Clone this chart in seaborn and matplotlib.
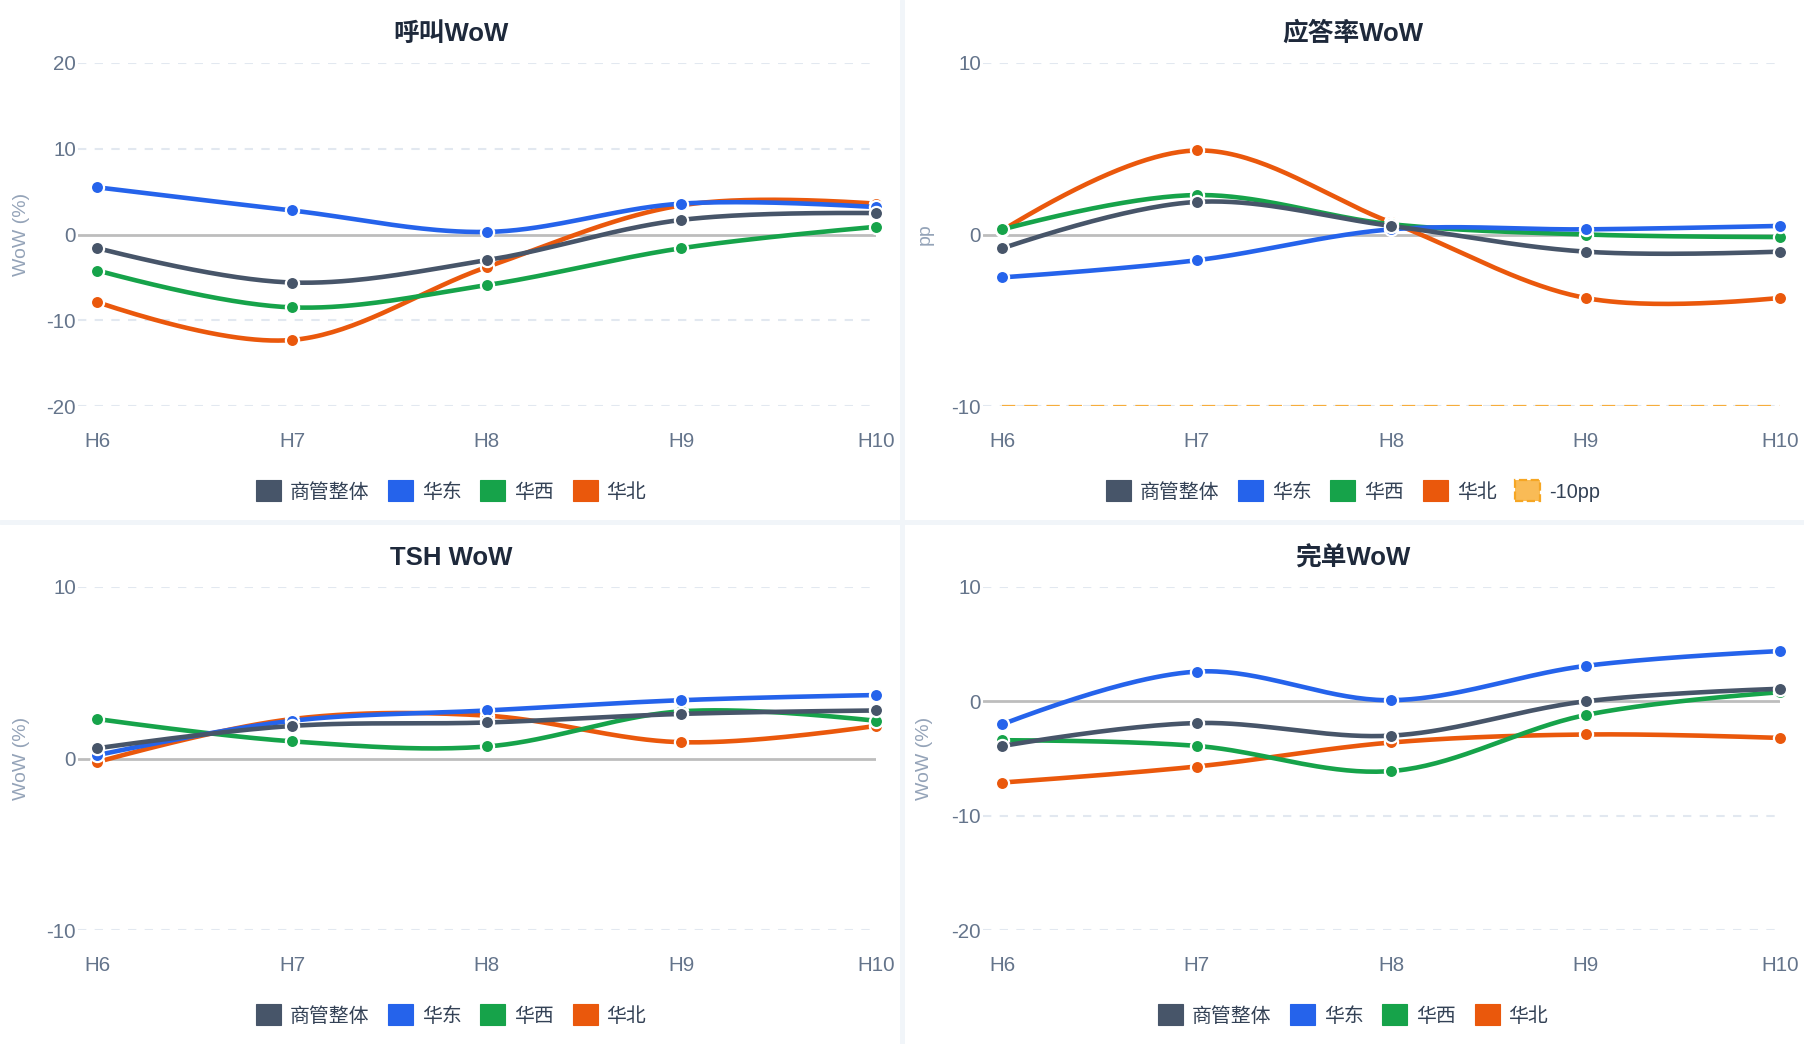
import numpy as np
import pandas as pd
import matplotlib
matplotlib.use('Agg')
import matplotlib.pyplot as plt
import seaborn as sns
from matplotlib.patches import Patch
from matplotlib.lines import Line2D

# categories / series
hours = ['H6', 'H7', 'H8', 'H9', 'H10']
names = ['商管整体', '华东', '华西', '华北']
colors = ['#475569', '#2563eb', '#16a34a', '#ea580c']

# 呼叫WoW (%)
call_all = [-1.6, -5.6, -3.0, 1.7, 2.5]
call_east = [5.5, 2.8, 0.3, 3.6, 3.2]
call_west = [-4.2, -8.5, -5.9, -1.6, 0.9]
call_north = [-7.9, -12.3, -3.8, 3.4, 3.6]

# 应答率WoW (pp)
ans_all = [-0.8, 1.9, 0.5, -1.0, -1.0]
ans_east = [-2.5, -1.5, 0.3, 0.3, 0.5]
ans_west = [0.3, 2.3, 0.6, 0.0, -0.15]
ans_north = [0.25, 4.9, 0.7, -3.7, -3.7]
ans_limit = -10

# TSH WoW (%)
tsh_all = [0.6, 1.9, 2.1, 2.6, 2.8]
tsh_east = [0.2, 2.2, 2.8, 3.4, 3.7]
tsh_west = [2.3, 1.0, 0.7, 2.75, 2.2]
tsh_north = [-0.2, 2.3, 2.5, 0.95, 1.9]

# 完单WoW (%)
fin_all = [-3.9, -1.9, -3.0, 0.0, 1.1]
fin_east = [-2.0, 2.6, 0.1, 3.1, 4.4]
fin_west = [-3.4, -3.9, -6.1, -1.2, 0.8]
fin_north = [-7.1, -5.7, -3.6, -2.9, -3.2]

sns.set_theme(style='white')
plt.rcParams['font.family'] = ['Liberation Sans', 'Noto Sans CJK SC', 'DejaVu Sans']
plt.rcParams['axes.unicode_minus'] = False


def smooth(ax, xs, ys, n=40):
    # plotly-like catmull-rom spline, done in pixel space
    pts = ax.transData.transform(np.column_stack([xs, ys]))
    tang = []
    for i in range(1, len(pts) - 1):
        d1 = pts[i - 1] - pts[i]
        d2 = pts[i + 1] - pts[i]
        d1a = np.hypot(*d1) ** 0.5
        d2a = np.hypot(*d2) ** 0.5
        num = d2a ** 2 * d1 - d1a ** 2 * d2
        tang.append((pts[i] + num / (3 * d2a * (d1a + d2a)),
                     pts[i] - num / (3 * d1a * (d1a + d2a))))
    t = np.linspace(0, 1, n)[:, None]
    segs = [(1 - t) ** 2 * pts[0] + 2 * (1 - t) * t * tang[0][0] + t ** 2 * pts[1]]
    for i in range(2, len(pts) - 1):
        segs.append((1 - t) ** 3 * pts[i - 1] + 3 * (1 - t) ** 2 * t * tang[i - 2][1]
                    + 3 * (1 - t) * t ** 2 * tang[i - 1][0] + t ** 3 * pts[i])
    segs.append((1 - t) ** 2 * pts[-2] + 2 * (1 - t) * t * tang[-1][1] + t ** 2 * pts[-1])
    return ax.transData.inverted().transform(np.vstack(segs))


W, H = 1804, 1044
fig = plt.figure(figsize=(W / 100, H / 100), dpi=100)

panels = [
    dict(rect=(78, 63, 876, 406), title='呼叫WoW', ylabel='WoW (%)', ylim=(-20, 20),
         yticks=[-20, -10, 0, 10, 20], data=[call_all, call_east, call_west, call_north],
         cx=451, lab_x=21, limit=None),
    dict(rect=(983, 63, 1780, 406), title='应答率WoW', ylabel='pp', ylim=(-10, 10),
         yticks=[-10, 0, 10], data=[ans_all, ans_east, ans_west, ans_north],
         cx=1353, lab_x=925, limit=ans_limit),
    dict(rect=(78, 587, 876, 930), title='TSH WoW', ylabel='WoW (%)', ylim=(-10, 10),
         yticks=[-10, 0, 10], data=[tsh_all, tsh_east, tsh_west, tsh_north],
         cx=451, lab_x=21, limit=None),
    dict(rect=(983, 587, 1780, 930), title='完单WoW', ylabel='WoW (%)', ylim=(-20, 10),
         yticks=[-20, -10, 0, 10], data=[fin_all, fin_east, fin_west, fin_north],
         cx=1353, lab_x=925, limit=None),
]

xs = np.arange(len(hours))
for p in panels:
    x0, y0, x1, y1 = p['rect']
    ax = fig.add_axes([x0 / W, 1 - y1 / H, (x1 - x0) / W, (y1 - y0) / H])
    ax.set_xlim(-0.1, 4.0)
    ax.set_ylim(*p['ylim'])
    ax.set_yticks(p['yticks'])
    ax.set_yticklabels([str(v) for v in p['yticks']])
    ax.set_xticks(xs)
    ax.set_xticklabels(hours)
    for s in ax.spines.values():
        s.set_visible(False)
    ax.grid(False)
    for v in p['yticks']:
        if v != 0:
            ax.axhline(v, color='#e2e8f0', lw=1.5, dashes=(4, 4), zorder=0)
    ax.axhline(0, color='#bdbdbd', lw=2, zorder=1)
    ax.tick_params(axis='y', length=0, pad=1.5, labelsize=14.8, labelcolor='#64748b')
    ax.tick_params(axis='x', length=0, pad=19, labelsize=14.8, labelcolor='#64748b')

    if p['limit'] is not None:
        ax.plot([xs[0], xs[-1]], [p['limit']] * 2, color='#f6ad3c', lw=1.6,
                dashes=(6, 4), zorder=2)

    # draw in reverse so 商管整体 sits on top
    for k in range(len(names) - 1, -1, -1):
        vals = p['data'][k]
        z = 3 + 2 * (len(names) - k)
        curve = smooth(ax, xs, vals)
        sns.lineplot(x=curve[:, 0], y=curve[:, 1], sort=False, estimator=None,
                     color=colors[k], lw=3.3, ax=ax, zorder=z)
        sns.scatterplot(x=xs, y=vals, color=colors[k], s=90, edgecolor='white',
                        linewidth=1.6, ax=ax, zorder=z + 1, clip_on=False)

    fig.text(p['cx'] / W, 1 - (y0 - 29) / H, p['title'], ha='center', va='center',
             fontsize=18.5, fontweight='bold', color='#1e293b')
    fig.text(p['lab_x'] / W, 1 - (y0 + y1) / 2 / H, p['ylabel'], rotation=90,
             ha='center', va='center', fontsize=14, color='#94a3b8')

    handles = [Patch(facecolor=c, edgecolor=c, lw=0.8, label=n) for c, n in zip(colors, names)]
    if p['limit'] is not None:
        handles.append(Patch(facecolor='#f9bb56', edgecolor='#f6a623', lw=1.6,
                             linestyle='--', label='-10pp'))
    fig.legend(handles=handles, loc='center', bbox_to_anchor=(p['cx'] / W, 1 - (y1 + 85) / H),
               ncol=len(handles), frameon=False, fontsize=14.3, handlelength=1.25,
               handleheight=1.25, handletextpad=0.45, columnspacing=0.95,
               labelcolor='#334155')

# panel separators
fig.add_artist(Line2D([0.5, 0.5], [0, 1], transform=fig.transFigure, color='#f1f5f9', lw=3.5))
fig.add_artist(Line2D([0, 1], [1 - 522 / H, 1 - 522 / H], transform=fig.transFigure,
                      color='#f1f5f9', lw=3.5))

fig.savefig('out.png', dpi=100, facecolor='white')
